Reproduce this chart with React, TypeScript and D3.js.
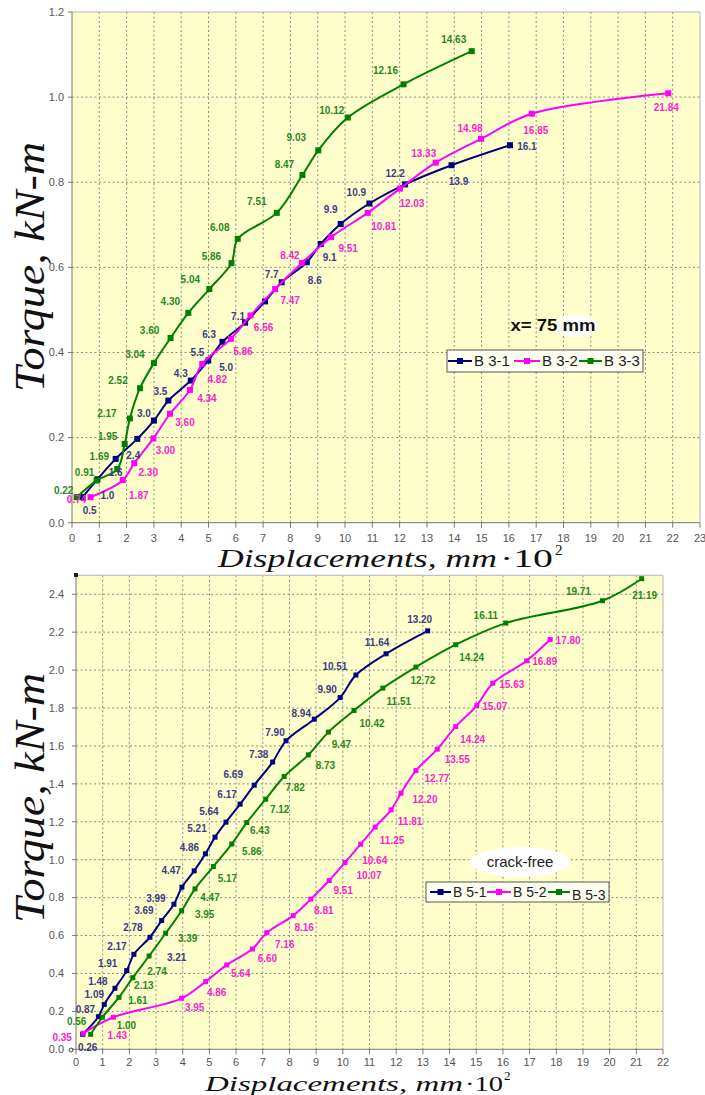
import React from "react"
import * as d3 from "d3"

// ---------- top chart (x = 75 mm) ----------
const topXTicks = [0, 1, 2, 3, 4, 5, 6, 7, 8, 9, 10, 11, 12, 13, 14, 15, 16, 17, 18, 19, 20, 21, 22, 23]
const topYTicks = [0, 0.2, 0.4, 0.6, 0.8, 1.0, 1.2]

const b31X = [0.39, 0.93, 1.6, 2.39, 3.0, 3.53, 4.35, 4.99, 5.51, 6.34, 7.07, 7.68, 8.6, 9.11, 9.84, 10.89, 12.2, 13.9, 16.04]
const b31Y = [0.06, 0.102, 0.15, 0.197, 0.24, 0.287, 0.334, 0.381, 0.425, 0.47, 0.52, 0.565, 0.612, 0.655, 0.702, 0.75, 0.795, 0.84, 0.887]
const b31Lbl = ["0.5", "1.0", "1.6", "2.4", "3.0", "3.5", "4.3", "5.0", "5.5", "6.3", "7.1", "7.7", "8.6", "9.1", "9.9", "10.9", "12.2", "13.9", "16.1"]

const b32X = [0.68, 1.86, 2.28, 2.98, 3.59, 4.32, 4.77, 5.82, 6.54, 7.44, 8.42, 9.49, 10.83, 12.01, 13.32, 14.98, 16.84, 21.84]
const b32Y = [0.06, 0.1, 0.14, 0.198, 0.256, 0.312, 0.373, 0.432, 0.487, 0.549, 0.61, 0.671, 0.728, 0.785, 0.846, 0.902, 0.961, 1.009]
const b32Lbl = ["0.74", "1.87", "2.30", "3.00", "3.60", "4.34", "4.82", "5.86", "6.56", "7.47", "8.42", "9.51", "10.81", "12.03", "13.33", "14.98", "16.85", "21.84"]

const b33X = [0.17, 0.9, 1.66, 1.93, 2.12, 2.49, 3.0, 3.61, 4.26, 5.03, 5.84, 6.07, 7.5, 8.44, 9.02, 10.1, 12.14, 14.64]
const b33Y = [0.06, 0.099, 0.126, 0.185, 0.245, 0.316, 0.375, 0.434, 0.493, 0.549, 0.61, 0.667, 0.728, 0.817, 0.875, 0.952, 1.03, 1.108]
const b33Lbl = ["0.22", "0.91", "1.69", "1.95", "2.17", "2.52", "3.04", "3.60", "4.30", "5.04", "5.86", "6.08", "7.51", "8.47", "9.03", "10.12", "12.16", "14.63"]

// ---------- bottom chart (crack-free) ----------
const botXTicks = [0, 1, 2, 3, 4, 5, 6, 7, 8, 9, 10, 11, 12, 13, 14, 15, 16, 17, 18, 19, 20, 21, 22]
const botYTicks = [0, 0.2, 0.4, 0.6, 0.8, 1.0, 1.2, 1.4, 1.6, 1.8, 2.0, 2.2, 2.4]

const b51X = [0.25, 0.84, 1.06, 1.46, 1.9, 2.17, 2.77, 3.21, 3.67, 3.97, 4.43, 4.85, 5.21, 5.62, 6.15, 6.68, 7.37, 7.87, 8.93, 9.9, 10.49, 11.62, 13.18]
const b51Y = [0.079, 0.172, 0.237, 0.322, 0.415, 0.501, 0.591, 0.679, 0.765, 0.855, 0.941, 1.031, 1.119, 1.198, 1.293, 1.393, 1.515, 1.627, 1.741, 1.855, 1.974, 2.086, 2.207]
const b51Lbl = ["0.26", "0.87", "1.09", "1.48", "1.91", "2.17", "2.78", "3.21", "3.69", "3.99", "4.47", "4.86", "5.21", "5.64", "6.17", "6.69", "7.38", "7.90", "8.94", "9.90", "10.51", "11.64", "13.20"]

const b52X = [0.27, 1.4, 3.96, 4.86, 5.65, 6.61, 7.15, 8.14, 8.8, 9.49, 10.08, 10.67, 11.21, 11.81, 12.18, 12.74, 13.54, 14.23, 15.02, 15.62, 16.89, 17.77]
const b52Y = [0.084, 0.169, 0.269, 0.357, 0.445, 0.529, 0.615, 0.705, 0.792, 0.89, 0.985, 1.082, 1.172, 1.263, 1.351, 1.47, 1.583, 1.702, 1.813, 1.931, 2.049, 2.161]
const b52Lbl = ["0.35", "1.43", "3.95", "4.86", "5.64", "6.60", "7.16", "8.16", "8.81", "9.51", "10.07", "10.64", "11.25", "11.81", "12.20", "12.77", "13.55", "14.24", "15.07", "15.63", "16.89", "17.80"]

const b53X = [0.55, 0.99, 1.61, 2.13, 2.74, 3.36, 3.96, 4.46, 5.15, 5.84, 6.4, 7.11, 7.8, 8.71, 9.46, 10.42, 11.5, 12.74, 14.23, 16.11, 19.73, 21.2]
const b53Y = [0.079, 0.169, 0.274, 0.378, 0.492, 0.612, 0.731, 0.846, 0.964, 1.083, 1.196, 1.319, 1.439, 1.553, 1.673, 1.787, 1.905, 2.016, 2.134, 2.248, 2.366, 2.482]
const b53Lbl = ["0.56", "1.00", "1.61", "2.13", "2.74", "3.39", "3.95", "4.47", "5.17", "5.86", "6.43", "7.12", "7.82", "8.73", "9.47", "10.42", "11.51", "12.72", "14.24", "16.11", "19.71", "21.19"]

// label placement (pixel offsets from the marker)
const b31Off = [[7, 13], [10, 16], [0, 14], [-4, 17], [-10, -7], [-8, -9], [-10, -7], [18, 7], [-25, 11], [-36, 12], [-27, 15], [-10, -8], [8, 18], [9, 14], [-10, -14], [-13, -11], [-10, -11], [7, 16], [17, 1]]
const b32Off = [[-14, 2], [16, 15], [14, 9], [12, 12], [15, 9], [17, 9], [15, 16], [12, 13], [13, 12], [15, 11], [-12, -8], [17, 11], [16, 14], [12, 15], [-12, -9], [-11, -10], [4, 17], [-2, 14]]
const b33Off = [[-13, -7], [-12, -8], [-18, -13], [-17, -7], [-23, -5], [-22, -8], [-19, -9], [-21, -7], [-18, -11], [-19, -10], [-20, -7], [-18, -11], [-20, -11], [-18, -10], [-22, -13], [-16, -7], [-18, -14], [-18, -12]]
const b51Off = [[5, 13], [-13, -7], [-10, -10], [-17, -7], [-19, -7], [-17, -8], [-17, -10], [15, 37], [-30, 6], [-26, 11], [-23, 0], [-16, -6], [-18, -9], [-17, -11], [-13, -10], [-21, -11], [-14, -8], [-11, -8], [-13, -6], [-13, -8], [-21, -9], [-9, -11], [-8, -11]]
const b52Off = [[-21, 4], [4, 18], [13, 9], [11, 11], [14, 9], [15, 9], [18, 12], [11, 12], [13, 11], [14, 10], [24, 13], [14, 16], [17, 13], [19, 12], [24, 6], [21, 8], [20, 10], [17, 13], [18, 1], [19, 1], [18, 1], [18, 1]]
const b53Off = [[-14, -13], [24, 8], [19, 3], [11, 8], [8, 15], [22, 5], [23, 4], [15, 9], [14, 12], [20, 8], [13, 8], [14, 10], [11, 11], [17, 11], [13, 12], [18, 13], [16, 13], [7, 13], [16, 13], [-20, -8], [-24, -9], [3, 17]]

const NAVY = "#000080"
const PINK = "#ff00ff"
const GREEN = "#008000"
const PLOT_BG = "#ffffcc"
const SANS = "'Liberation Sans', Arial, sans-serif"
const SERIF = "'Liberation Serif', 'Times New Roman', serif"

function mk(name, xs, ys, lbl, off, color, textColor) {
  return { name, pts: xs.map((v, i) => ({ x: v, y: ys[i], t: lbl[i], o: off[i] })), color, textColor }
}

const topPanel = {
  left: 72, right: 700, top: 12, bottom: 522.7, xMax: 23, yMax: 1.2,
  xTicks: topXTicks, yTicks: topYTicks, yLabelGap: 8, marker: 6, tickGap: 19,
  series: [
    mk("B 3-1", b31X, b31Y, b31Lbl, b31Off, NAVY, "#3c3c85"),
    mk("B 3-2", b32X, b32Y, b32Lbl, b32Off, PINK, "#ff22cc"),
    mk("B 3-3", b33X, b33Y, b33Lbl, b33Off, GREEN, "#1f8a1f"),
  ],
}

const botPanel = {
  left: 76, right: 663, top: 575.3, bottom: 1049.3, xMax: 22, yMax: 2.5,
  xTicks: botXTicks, yTicks: botYTicks, yLabelGap: 12, marker: 5, tickGap: 17,
  series: [
    mk("B 5-1", b51X, b51Y, b51Lbl, b51Off, NAVY, "#3c3c85"),
    mk("B 5-2", b52X, b52Y, b52Lbl, b52Off, PINK, "#ff22cc"),
    mk("B 5-3", b53X, b53Y, b53Lbl, b53Off, GREEN, "#1f8a1f"),
  ],
}

function Panel({ p }) {
  const x = d3.scaleLinear().domain([0, p.xMax]).range([p.left, p.right])
  const y = d3.scaleLinear().domain([0, p.yMax]).range([p.bottom, p.top])
  const line = d3.line().x(d => x(d.x)).y(d => y(d.y)).curve(d3.curveCatmullRom.alpha(0.5))
  const fmt = d3.format(".1f")
  const m = p.marker
  return (
    <g>
      <rect x={p.left} y={p.top} width={p.right - p.left} height={p.bottom - p.top} fill={PLOT_BG} />
      {/* grid */}
      {p.xTicks.filter(t => t > 0 && t < p.xMax).map(t => (
        <line key={"gx" + t} x1={x(t)} x2={x(t)} y1={p.top} y2={p.bottom} stroke="#8a8a8a" strokeDasharray="2,2.5" />
      ))}
      {p.yTicks.filter(t => t > 0 && y(t) > p.top + 1).map(t => (
        <line key={"gy" + t} x1={p.left} x2={p.right} y1={y(t)} y2={y(t)} stroke="#8a8a8a" strokeDasharray="2,2.5" />
      ))}
      {/* frame */}
      <line x1={p.left} x2={p.right} y1={p.top} y2={p.top} stroke="#b5b5b5" />
      <line x1={p.right} x2={p.right} y1={p.top} y2={p.bottom} stroke="#b5b5b5" />
      <line x1={p.left} x2={p.left} y1={p.top} y2={p.bottom} stroke="#777" />
      <line x1={p.left} x2={p.right} y1={p.bottom} y2={p.bottom} stroke="#777" />
      {/* axes */}
      {p.xTicks.map(t => (
        <g key={"tx" + t}>
          <line x1={x(t)} x2={x(t)} y1={p.bottom} y2={p.bottom + 5} stroke="#777" />
          <text x={x(t)} y={p.bottom + p.tickGap} textAnchor="middle" fontSize={11} fill="#555" fontFamily={SANS}>{t}</text>
        </g>
      ))}
      {p.yTicks.map(t => (
        <g key={"ty" + t}>
          <line x1={p.left - 4} x2={p.left} y1={y(t)} y2={y(t)} stroke="#777" />
          <text x={p.left - p.yLabelGap} y={y(t)} dy="0.35em" textAnchor="end" fontSize={11} fill="#555" fontFamily={SANS}>{fmt(t)}</text>
        </g>
      ))}
      {/* series */}
      {p.series.map(s => (
        <g key={s.name}>
          <path d={line(s.pts)} fill="none" stroke={s.color} strokeWidth={2} />
          {s.pts.map((d, i) => (
            <rect key={i} x={x(d.x) - m / 2} y={y(d.y) - m / 2} width={m} height={m} fill={s.color} />
          ))}
        </g>
      ))}
      {p.series.map(s => (
        <g key={s.name + "l"}>
          {s.pts.map((d, i) => (
            <text key={i} x={x(d.x) + d.o[0]} y={y(d.y) + d.o[1]} dy="0.35em" textAnchor="middle"
              fontSize={10} fontWeight="bold" fill={s.textColor} fontFamily={SANS}>{d.t}</text>
          ))}
        </g>
      ))}
    </g>
  )
}

function Legend({ series, x0, y0, w, h, items, fs }) {
  return (
    <g>
      <rect x={x0} y={y0} width={w} height={h} fill="#fffff0" stroke="#555" />
      {series.map((s, i) => {
        const it = items[i]
        return (
          <g key={s.name}>
            <line x1={it[0]} x2={it[1]} y1={y0 + h / 2} y2={y0 + h / 2} stroke={s.color} strokeWidth={2} />
            <rect x={(it[0] + it[1]) / 2 - 3} y={y0 + h / 2 - 3} width={6} height={6} fill={s.color} />
            <text x={it[1] + 2} y={y0 + h / 2 + (it[2] || 0)} dy="0.36em" fontSize={fs} fill="#222" fontFamily={SANS}>{s.name}</text>
          </g>
        )
      })}
    </g>
  )
}

export default function App() {
  return (
    <svg width={705} height={1095} style={{ position: "absolute", left: 0, top: 0, background: "#fff" }}>
      <rect width={705} height={1095} fill="#fff" />
      <Panel p={topPanel} />
      <Panel p={botPanel} />

      {/* top annotations */}
      <ellipse cx={576} cy={326} rx={22} ry={11} fill="#fff" />
      <text x={553} y={325} dy="0.36em" textAnchor="middle" fontSize={16} fontWeight="bold" fill="#111" fontFamily={SANS}
        textLength={85} lengthAdjust="spacingAndGlyphs">x= 75 mm</text>
      <Legend series={topPanel.series} x0={447} y0={350} w={196} h={22} fs={15}
        items={[[448, 472], [514, 540], [579, 602]]} />

      {/* bottom annotations */}
      <ellipse cx={520} cy={862} rx={50} ry={15} fill="#fff" />
      <text x={520} y={862} dy="0.36em" textAnchor="middle" fontSize={15} fill="#222" fontFamily={SANS}>crack-free</text>
      <Legend series={botPanel.series} x0={426} y0={882} w={183} h={20} fs={14}
        items={[[430, 451], [487, 511], [548, 570, 3]]} />
      <rect x={74} y={573} width={4} height={4} fill="#222" />
      <circle cx={71} cy={1050} r={2} fill="none" stroke="#444" />

      {/* axis titles */}
      <text transform="translate(44,267) rotate(-90)" textAnchor="middle" fontSize={42} fontStyle="italic" fill="#111"
        fontFamily={SERIF} textLength={250} lengthAdjust="spacingAndGlyphs">Torque,  kN-m</text>
      <text transform="translate(44,798) rotate(-90)" textAnchor="middle" fontSize={42} fontStyle="italic" fill="#111"
        fontFamily={SERIF} textLength={250} lengthAdjust="spacingAndGlyphs">Torque,  kN-m</text>

      <text y={567} fontFamily={SERIF} fill="#111">
        <tspan x={218} fontSize={26} fontStyle="italic" textLength={279} lengthAdjust="spacingAndGlyphs">Displacements,  mm</tspan>
        <tspan x={500} fontSize={26} textLength={53} lengthAdjust="spacingAndGlyphs">·10</tspan>
        <tspan x={555} y={555} fontSize={15}>2</tspan>
      </text>
      <text y={1091} fontFamily={SERIF} fill="#111">
        <tspan x={205} fontSize={22} fontStyle="italic" textLength={258} lengthAdjust="spacingAndGlyphs">Displacements,  mm</tspan>
        <tspan x={465} fontSize={22} textLength={38} lengthAdjust="spacingAndGlyphs">·10</tspan>
        <tspan x={504} y={1080} fontSize={13}>2</tspan>
      </text>
    </svg>
  )
}
